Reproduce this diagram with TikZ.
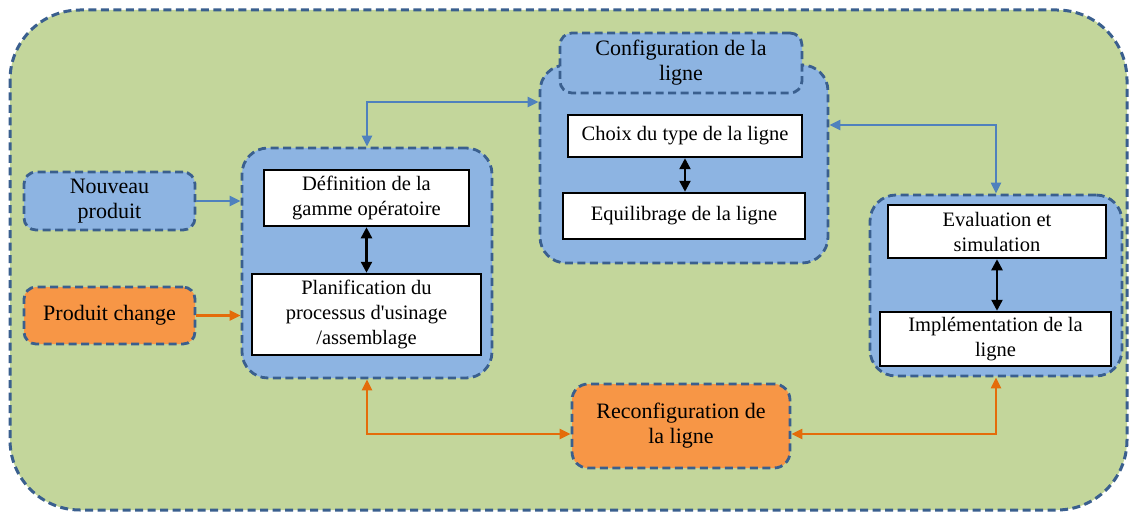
\documentclass[tikz,border=0pt]{standalone}
\usepackage{fontspec}
\setmainfont{Liberation Serif}
\usetikzlibrary{arrows.meta,calc}
\definecolor{bggreen}{HTML}{C3D69B}
\definecolor{grpblue}{HTML}{8DB4E2}
\definecolor{dashblue}{HTML}{3A5F8E}
\definecolor{arrblue}{HTML}{4F81BD}
\definecolor{orfill}{HTML}{F79646}
\definecolor{orarr}{HTML}{E46C0A}
\begin{document}
\begin{tikzpicture}[x=1pt,y=-1pt,
  dashframe/.style={draw=dashblue, line width=2.8pt, dash pattern=on 8pt off 4.5pt},
  grp/.style={dashframe, fill=grpblue, rounded corners=26pt, inner sep=0pt},
  lbl/.style={dashframe, rounded corners=12pt, inner sep=0pt, align=center,
    font=\fontsize{22}{25}\selectfont},
  inbox/.style={draw=black, line width=2.5pt, fill=white, inner sep=0pt, align=center,
    font=\fontsize{20.5}{25}\selectfont},
  barr/.style={draw=arrblue, line width=2.2pt, >={Triangle[length=11pt,width=10pt]}},
  oarr/.style={draw=orarr, line width=2.2pt, >={Triangle[length=11pt,width=10pt]}},
  karr/.style={draw=black, line width=2.4pt, >={Triangle[length=11pt,width=11pt]}}]
\useasboundingbox (0,0) rectangle (1130,516);
\fill[white] (0,0) rectangle (1130,516);
\draw[dashframe, line width=3pt, fill=bggreen, rounded corners=70pt] (10,10) rectangle (1127,510);

% side inputs
\node[lbl, fill=grpblue, minimum width=171pt, minimum height=58pt] (nouveau) at (109.5,201) {Nouveau\\produit};
\node[lbl, fill=orfill, minimum width=171pt, minimum height=57pt] (change) at (109.5,315.5) {Produit change};

% left group
\node[grp, minimum width=250pt, minimum height=230pt] (gL) at (367,263) {};
\node[inbox, minimum width=205pt, minimum height=56pt] (def) at (366.5,198) {Définition de la\\gamme opératoire};
\node[inbox, minimum width=229pt, minimum height=81pt] (plan) at (366.5,314.5) {Planification du\\processus d\textquotesingle usinage\\/assemblage};

% configuration group
\node[grp, minimum width=288pt, minimum height=198pt] (gC) at (684,164) {};
\node[lbl, fill=grpblue, minimum width=242pt, minimum height=60pt] (cfg) at (681,63) {Configuration de la\\ligne};
\node[inbox, minimum width=234pt, minimum height=42pt] (choix) at (685,136) {Choix du type de la ligne};
\node[inbox, minimum width=242pt, minimum height=46pt] (equi) at (684,216) {Equilibrage de la ligne};

% right group
\node[grp, minimum width=252pt, minimum height=181pt] (gR) at (996,285.5) {};
\node[inbox, minimum width=218pt, minimum height=53pt] (eval) at (997,231.5) {Evaluation et\\simulation};
\node[inbox, minimum width=231pt, minimum height=54pt] (impl) at (995.5,339) {Implémentation de la\\ligne};

% reconfiguration
\node[lbl, fill=orfill, rounded corners=16pt, minimum width=218pt, minimum height=84pt] (reconf) at (681,426) {Reconfiguration de\\la ligne};

% connectors
\draw[barr,->] (nouveau.east) -- (nouveau.east -| gL.west);
\draw[oarr,->] (change.east) -- (change.east -| gL.west);
\draw[barr,<->] (gL.north) |- ([yshift=62pt]gC.west);
\draw[barr,<->] ([yshift=39pt]gC.east) -| (gR.north);
\draw[oarr,<->] (gL.south) |- ([yshift=-8pt]reconf.west);
\draw[oarr,<->] (gR.south) |- ([yshift=-8pt]reconf.east);
\draw[karr,<->] (def.south) -- (def.south |- plan.north);
\draw[karr,<->] (choix.south) -- (choix.south |- equi.north);
\draw[karr,<->] (eval.south) -- (eval.south |- impl.north);
\end{tikzpicture}
\end{document}
